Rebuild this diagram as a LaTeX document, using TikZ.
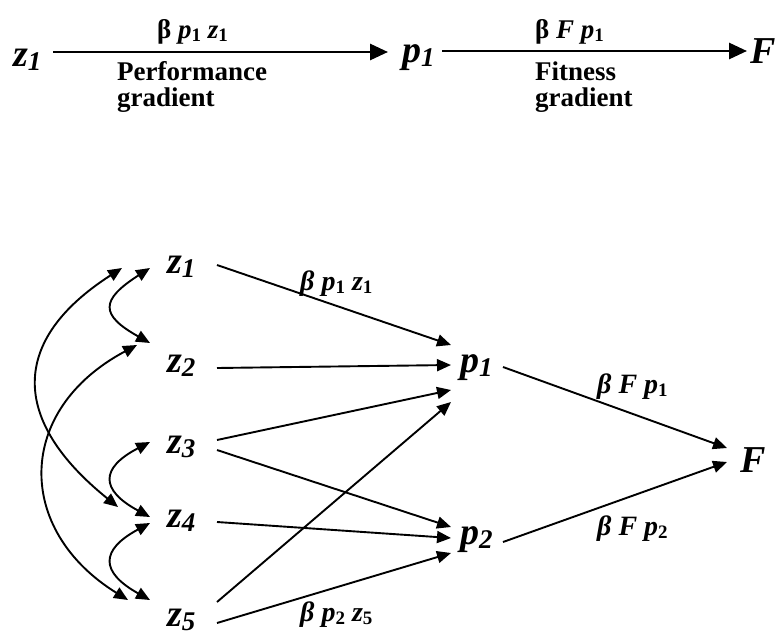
\documentclass[tikz,border=0pt]{standalone}
\usepackage{fontspec}
\setmainfont{Liberation Serif}
\usetikzlibrary{arrows.meta,calc}
\newcommand\isub[1]{\raisebox{-4.5pt}{\fontsize{27}{27}\selectfont\itshape #1}}
\newcommand\usub[1]{\raisebox{-3pt}{\fontsize{19}{19}\selectfont\upshape #1}}
\tikzset{
  var/.style={inner sep=0pt, anchor=base west, font=\fontsize{38}{40}\selectfont\bfseries\itshape},
  lbl/.style={inner sep=0pt, anchor=base west, font=\fontsize{27}{29}\selectfont\bfseries},
  blbl/.style={inner sep=0pt, anchor=base west, font=\fontsize{28}{30}\selectfont\bfseries\itshape},
  bigarr/.style={line width=2.8pt, -{Triangle[length=18pt,width=16pt]}},
  arr/.style={line width=1.9pt, -{Triangle[length=14pt,width=12pt]}},
  darr/.style={line width=1.9pt, {Triangle[length=14pt,width=12pt]}-{Triangle[length=14pt,width=12pt]}},
}
\begin{document}
\begin{tikzpicture}[x=1pt,y=-1pt]
\useasboundingbox (0,0) rectangle (778,637);
% top row
\node[var] (z1t) at (13,66) {z\isub{1}};
\node[var] (p1t) at (402,62) {p\isub{1}};
\node[var] (Ft) at (750,63) {F};
\draw[bigarr] ($(z1t.base west)+(40,-14)$) -- ($(p1t.base west)+(-14,-10)$);
\draw[bigarr] ($(p1t.base west)+(40,-11)$) -- ($(Ft.base west)+(-3,-12)$);
\node[lbl] (l1) at (157,38) {β \textit{p}\usub{1} \textit{z}\usub{1}};
\node[lbl] (l2) at (117,80) {Performance};
\node[lbl] (l3) at (117,106) {gradient};
\node[lbl] (l4) at (535,38) {β \textit{F} \textit{p}\usub{1}};
\node[lbl] (l5) at (535,80) {Fitness};
\node[lbl] (l6) at (535,106) {gradient};
% bottom network
\node[var] (z1) at (167,273) {z\isub{1}};
\node[var] (z2) at (167,372) {z\isub{2}};
\node[var] (z3) at (167,453) {z\isub{3}};
\node[var] (z4) at (167,527) {z\isub{4}};
\node[var] (z5) at (167,626) {z\isub{5}};
\node[var] (p1) at (460,372) {p\isub{1}};
\node[var] (p2) at (460,544) {p\isub{2}};
\node[var] (F) at (740,472) {F};
\draw[arr] ($(z1.base west)+(50,-8)$) -- ($(p1.base west)+(-9,-27)$);
\draw[arr] ($(z2.base west)+(50,-4)$) -- ($(p1.base west)+(-9,-7)$);
\draw[arr] ($(z3.base west)+(50,-13)$) -- ($(p1.base west)+(-9,18)$);
\draw[arr] ($(z5.base west)+(50,-24)$) -- ($(p1.base west)+(-9,30)$);
\draw[arr] ($(z3.base west)+(50,-3)$) -- ($(p2.base west)+(-9,-17)$);
\draw[arr] ($(z4.base west)+(50,-5)$) -- ($(p2.base west)+(-9,-6)$);
\draw[arr] ($(z5.base west)+(50,-3)$) -- ($(p2.base west)+(-9,9)$);
\draw[arr] ($(p1.base west)+(43,-5)$) -- ($(F.base west)+(-13,-24)$);
\draw[arr] ($(p2.base west)+(43,-2)$) -- ($(F.base west)+(-13,-10)$);
% correlations
\draw[darr] ($(z1.base west)+(-17,-5)$) .. controls (100,300) and (100,315) .. ($(z2.base west)+(-17,-29)$);
\draw[darr] ($(z3.base west)+(-17,-11)$) .. controls (100,468) and (100,490) .. ($(z4.base west)+(-17,-10)$);
\draw[darr] ($(z4.base west)+(-17,-4)$) .. controls (100,550) and (100,572) .. ($(z5.base west)+(-17,-26)$);
\draw[darr] ($(z1.base west)+(-45,-5)$) .. controls (10,340) and (10,420) .. ($(z4.base west)+(-49,-20)$);
\draw[darr] ($(z2.base west)+(-30,-27)$) .. controls (15,410) and (15,530) .. ($(z5.base west)+(-39,-26)$);
% labels
\node[blbl] (b1) at (300,290) {β \textit{p}\usub{1} \textit{z}\usub{1}};
\node[blbl] (b2) at (597,393) {β \textit{F} \textit{p}\usub{1}};
\node[blbl] (b3) at (597,535) {β \textit{F} \textit{p}\usub{2}};
\node[blbl] (b4) at (300,621) {β \textit{p}\usub{2} \textit{z}\usub{5}};
\end{tikzpicture}
\end{document}
